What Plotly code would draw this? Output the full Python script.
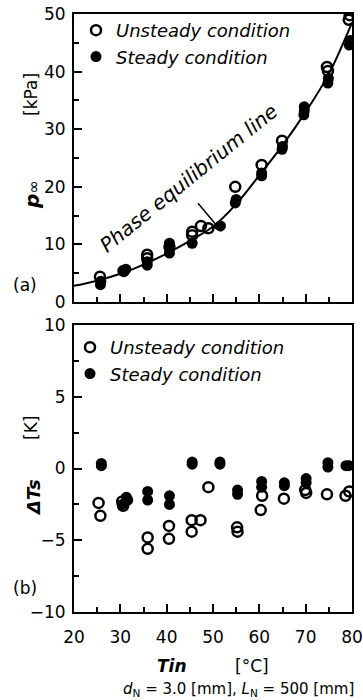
import plotly.graph_objects as go

# ---------------- data ----------------
# Panel (a): p_inf [kPa] vs Tin [°C]
a_unsteady_T = [25.6, 30.7, 35.8, 35.8, 40.6, 45.5, 45.5, 47.4, 49.0, 54.8, 60.5, 64.9, 74.6, 74.8, 79.3, 79.5]
a_unsteady_p = [4.4, 5.4, 8.2, 7.6, 9.6, 12.2, 11.6, 13.2, 12.8, 20.0, 23.8, 28.0, 40.8, 40.1, 49.0, 49.8]
a_steady_T = [25.7, 25.8, 30.8, 31.2, 35.8, 35.8, 40.6, 40.6, 40.6, 45.5, 51.6, 54.8, 55.0,
              60.5, 60.5, 64.9, 65.0, 69.6, 69.7, 69.7, 74.8, 74.9, 79.4, 79.6]
a_steady_p = [3.0, 3.6, 5.3, 5.7, 6.4, 7.0, 8.5, 9.3, 10.2, 10.2, 13.2, 17.2, 17.8,
              21.9, 22.4, 26.5, 27.0, 32.5, 33.2, 33.9, 38.0, 38.8, 44.6, 45.4]
# Phase equilibrium line
line_T = [20, 25, 30, 35, 40, 45, 50, 55, 60, 65, 70, 75, 80]
line_p = [2.8, 3.7, 4.9, 6.5, 8.4, 10.6, 13.1, 17.0, 22.0, 27.2, 33.0, 39.6, 48.5]

# Panel (b): ΔTs [K] vs Tin [°C]
b_unsteady_T = [25.3, 25.7, 30.4, 30.6, 35.9, 35.9, 40.5, 40.5, 45.4, 45.4, 47.3, 49.0,
                55.2, 55.3, 60.3, 60.6, 65.3, 69.9, 70.1, 74.6, 78.6, 79.4]
b_unsteady_dT = [-2.4, -3.3, -2.3, -2.6, -4.8, -5.6, -4.0, -4.9, -3.6, -4.4, -3.6, -1.3,
                 -4.1, -4.4, -2.9, -1.9, -2.1, -1.5, -1.7, -1.8, -1.9, -1.6]
b_steady_T = [25.9, 25.9, 30.4, 31.3, 31.6, 35.9, 35.9, 40.6, 40.6, 45.5, 45.5, 51.5, 51.5,
              55.3, 55.3, 60.5, 60.5, 65.4, 65.4, 70.1, 70.1, 74.8, 74.8, 78.7, 79.3]
b_steady_dT = [0.2, 0.35, -2.5, -2.0, -2.2, -1.6, -2.2, -1.9, -2.5, 0.3, 0.45, 0.3, 0.45,
               -1.5, -1.8, -0.9, -1.3, -1.0, -1.2, -0.7, -1.0, 0.1, 0.4, 0.2, 0.2]

x_ticks = [20, 30, 40, 50, 60, 70, 80]
legend_names = ["Unsteady condition", "Steady condition"]

# ---------------- figure ----------------
W, H = 363, 700
ML, MR, MT, MB = 74, 11, 14, 88
PW, PH = W - ML - MR, H - MT - MB


def px(x):
    return (x - ML) / PW


def py(y):
    return (H - MB - y) / PH


FONT = "DejaVu Sans"
open_marker = dict(symbol="circle-open", size=10, color="black", line=dict(width=2.5, color="black"))
fill_marker = dict(symbol="circle", size=11, color="black", line=dict(width=0))

fig = go.Figure()
fig.add_trace(go.Scatter(x=line_T, y=line_p, mode="lines", line=dict(color="black", width=2, shape="spline"),
                         showlegend=False, xaxis="x", yaxis="y"))
fig.add_trace(go.Scatter(x=a_unsteady_T, y=a_unsteady_p, mode="markers", marker=open_marker,
                         name=legend_names[0], legend="legend", legendgroup="au", xaxis="x", yaxis="y"))
fig.add_trace(go.Scatter(x=a_steady_T, y=a_steady_p, mode="markers", marker=fill_marker,
                         name=legend_names[1], legend="legend", legendgroup="as", xaxis="x", yaxis="y"))
fig.add_trace(go.Scatter(x=b_unsteady_T, y=b_unsteady_dT, mode="markers", marker=open_marker,
                         name=legend_names[0], legend="legend2", legendgroup="bu", xaxis="x2", yaxis="y2"))
fig.add_trace(go.Scatter(x=b_steady_T, y=b_steady_dT, mode="markers", marker=fill_marker,
                         name=legend_names[1], legend="legend2", legendgroup="bs", xaxis="x2", yaxis="y2"))

axis_common = dict(showline=True, linewidth=2, linecolor="black", mirror=True, showgrid=False, zeroline=False,
                   ticks="inside", ticklen=8, tickwidth=2, tickcolor="black", automargin=False,
                   tickfont=dict(family=FONT, size=17, color="black"))
a_bottom = 1 - (302 - MT) / PH
b_top = (H - MB - 325) / PH

fig.update_layout(
    width=W, height=H, margin=dict(l=ML, r=MR, t=MT, b=MB, autoexpand=False),
    paper_bgcolor="white", plot_bgcolor="white",
    font=dict(family=FONT, color="black"),
    xaxis=dict(axis_common, domain=[0, 1], anchor="y", range=[20, 80], tickvals=x_ticks,
               showticklabels=False, minor=dict(dtick=5, tick0=20, ticks="inside", ticklen=5, tickwidth=2, tickcolor="black")),
    yaxis=dict(axis_common, domain=[a_bottom, 1], anchor="x", range=[0, 50], dtick=10, ticklabelstandoff=3,
               minor=dict(dtick=5, ticks="inside", ticklen=5, tickwidth=2, tickcolor="black")),
    xaxis2=dict(axis_common, domain=[0, 1], anchor="y2", range=[20, 80], tickvals=x_ticks, ticklabelstandoff=9,
                minor=dict(dtick=5, tick0=20, ticks="inside", ticklen=5, tickwidth=2, tickcolor="black")),
    yaxis2=dict(axis_common, domain=[0, b_top], anchor="x2", range=[-10, 10], dtick=5, ticklabelstandoff=3,
                minor=dict(dtick=2.5, ticks="inside", ticklen=5, tickwidth=2, tickcolor="black")),
    legend=dict(x=px(76), y=py(12), xanchor="left", yanchor="top", bgcolor="rgba(0,0,0,0)",
                font=dict(family=FONT, size=18, style="italic", color="black"), tracegroupgap=0,
                traceorder="grouped", itemsizing="trace"),
    legend2=dict(x=px(70), y=py(329), xanchor="left", yanchor="top", bgcolor="rgba(0,0,0,0)",
                 font=dict(family=FONT, size=18, style="italic", color="black"), tracegroupgap=0,
                 traceorder="grouped", itemsizing="trace"),
)

ann = []


def label(text, x, y, size=17, angle=0):
    ann.append(dict(text=text, x=px(x), y=py(y), xref="paper", yref="paper", showarrow=False,
                    textangle=angle, font=dict(family=FONT, size=size, color="black"),
                    xanchor="center", yanchor="middle"))


label("[kPa]", 31, 95, 17, -90)
label("<b><i>p</i></b><span style='font-size:16px'>∞</span>", 32, 195, 20, -90)
label("[K]", 31, 428, 17, -90)
label("<b><i>ΔTs</i></b>", 33, 498, 18, -90)
label("(a)", 25, 285, 17)
label("(b)", 25, 588, 17)
label("<b><i>Tin</i></b>", 172, 666, 17)
label("[°C]", 252, 666, 17)
label("<i>d</i><sub>N</sub> = 3.0 [mm], <i>L</i><sub>N</sub> = 500 [mm]", 238, 689, 15)

ann.append(dict(text="<i>Phase equilibrium line</i>", x=44.8, y=21.5, xref="x", yref="y", showarrow=False,
                textangle=-39, font=dict(family=FONT, size=20, color="black")))
ann.append(dict(text="", x=51.9, y=12.2, xref="x", yref="y", ax=46.5, ay=17.4, axref="x", ayref="y",
                showarrow=True, arrowhead=2, arrowsize=1.3, arrowwidth=1.5, arrowcolor="black"))
fig.update_layout(annotations=ann)

fig.write_html("out.html", config={"displayModeBar": False},
               post_script="document.body.style.margin='0';")
